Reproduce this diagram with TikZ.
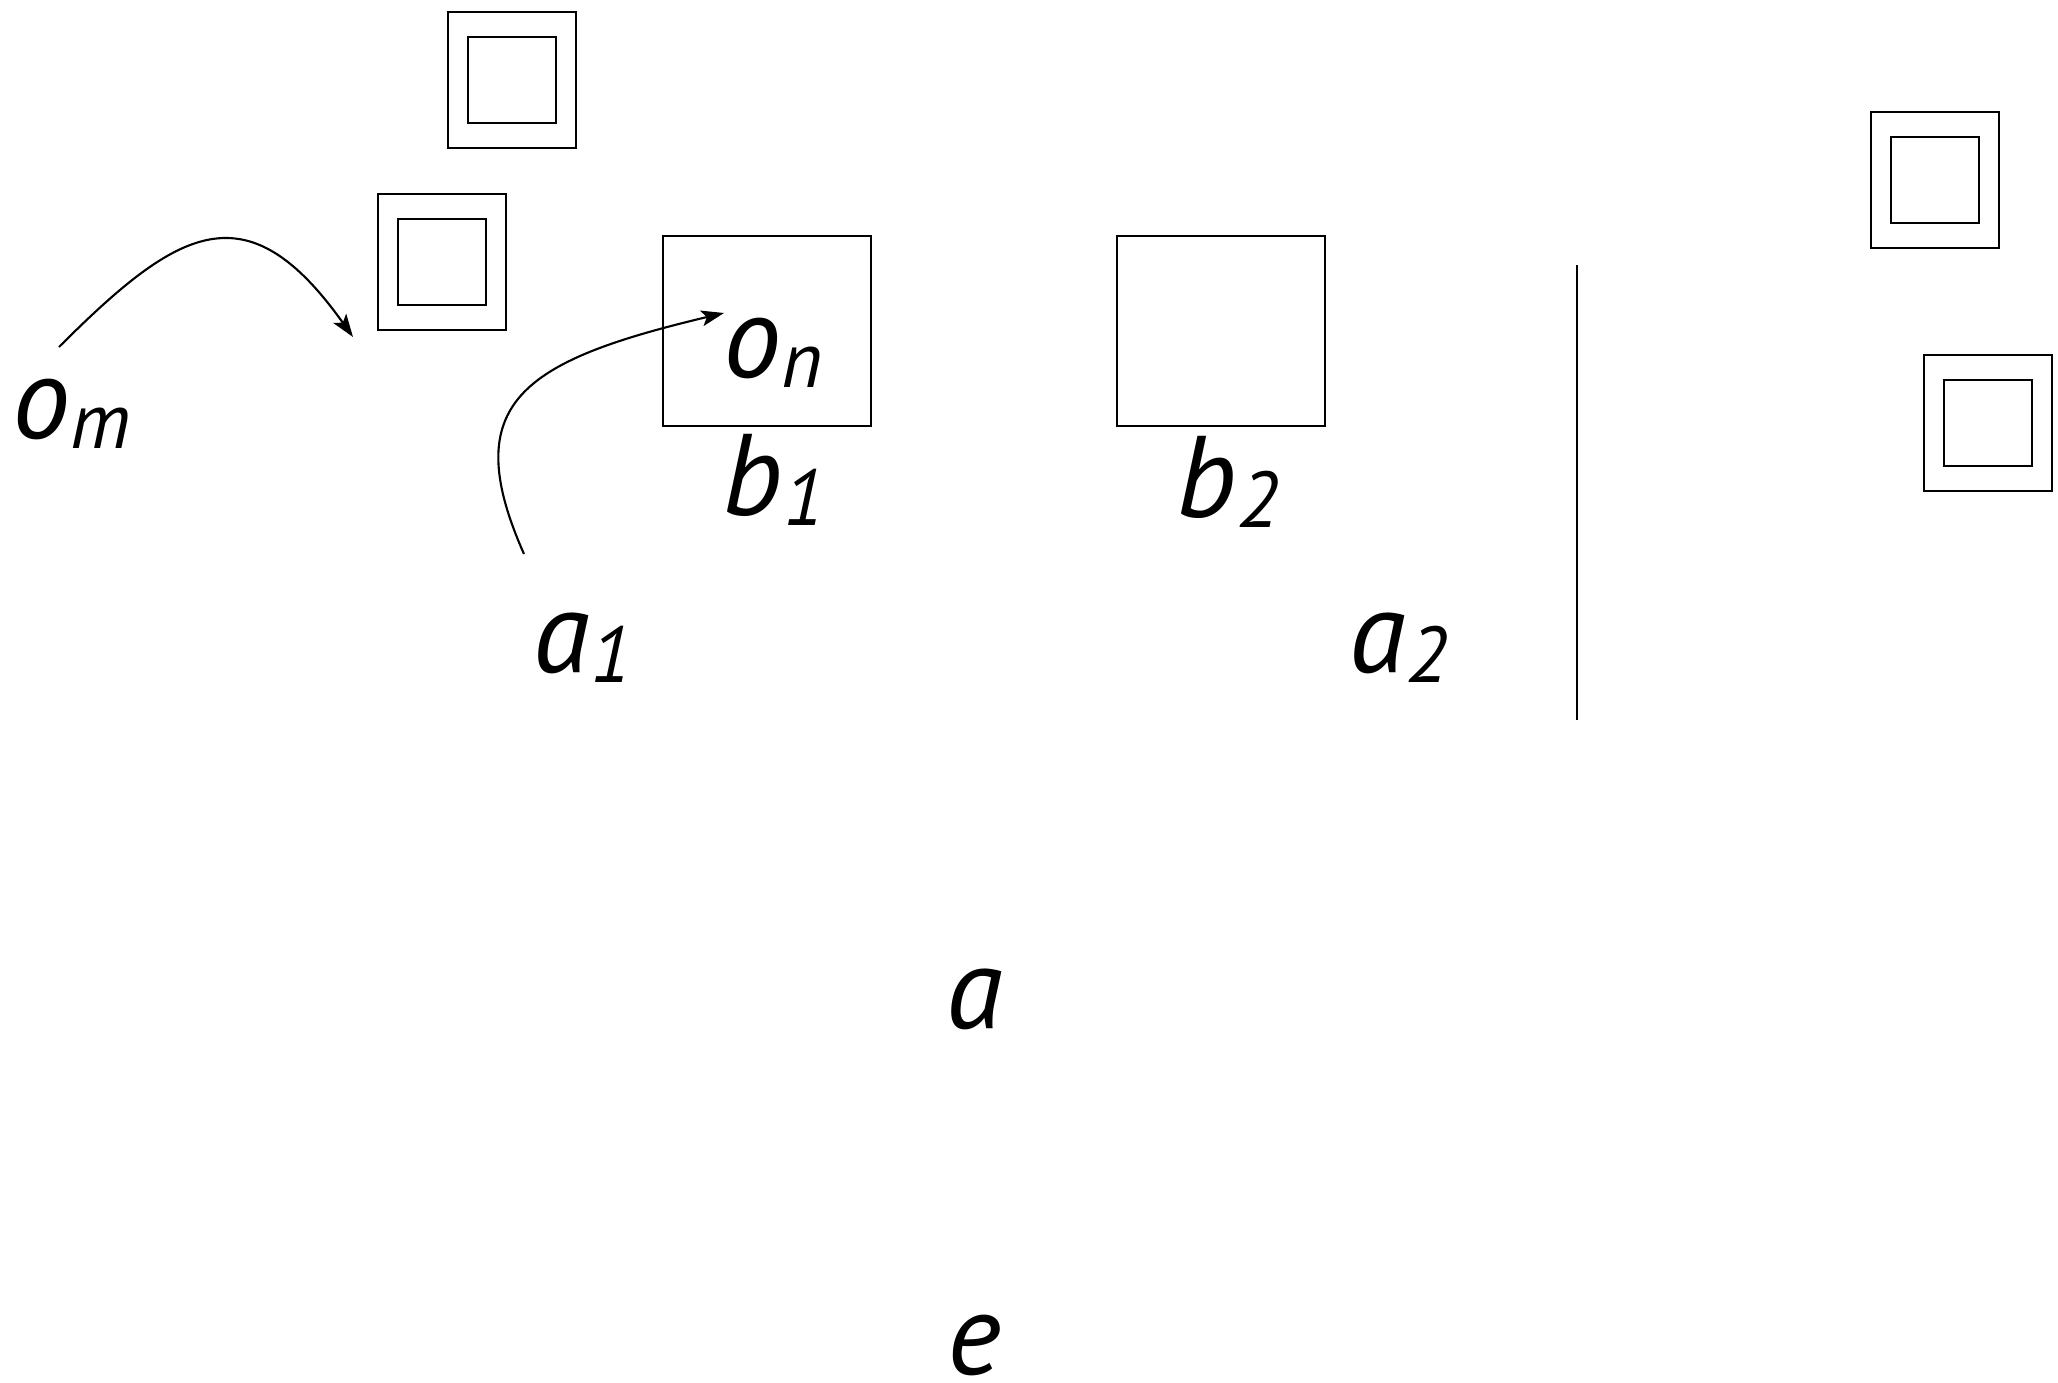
\documentclass[tikz,border=0pt]{standalone}
\usepackage{fontspec}
\setmainfont{PT Sans}
\usepackage{tikz}
\usetikzlibrary{arrows.meta,positioning}

\newcommand{\lowidx}[1]{\raisebox{-0.1cm}{\fontsize{22.5pt}{22.5pt}\selectfont\itshape #1}}

\begin{document}
\begin{tikzpicture}[
		x=0.01cm, y=-0.01cm,
		outerbox/.style={
			rectangle,
			draw=black,
			line width=0.7pt,
			inner sep=0pt,
			minimum width=1.28cm,
			minimum height=1.36cm
		},
		innerbox/.style={
			outerbox,
			minimum width=0.88cm,
			minimum height=0.86cm
		},
		blockbox/.style={
			rectangle,
			draw=black,
			line width=0.7pt,
			inner sep=0pt,
			minimum width=2.08cm,
			minimum height=1.9cm
		},
		lbl/.style={
			inner sep=0pt,
			anchor=base west,
			font=\fontsize{33pt}{33pt}\selectfont\itshape
		},
		arrow/.style={
			-{Stealth[length=6.5pt,width=4.5pt,inset=1.5pt]},
			draw=black,
			line width=0.6pt
		},
		divider/.style={
			draw=black,
			line width=0.7pt
		}
		]
		\useasboundingbox (0,0) rectangle (2058,1382);
		
		% double boxes
		\node[outerbox] (boxA) at (512,80) {};
		\node[innerbox] (boxAin) at (boxA.center) {};
		\node[outerbox] (boxB) at (442,262) {};
		\node[innerbox] (boxBin) at (boxB.center) {};
		\node[outerbox] (boxC) at (1935,180) {};
		\node[innerbox] (boxCin) at (boxC.center) {};
		\node[outerbox] (boxD) at (1988,423) {};
		\node[innerbox] (boxDin) at (boxD.center) {};
		
		% blocks
		\node[blockbox] (block1) at (767,331) {};
		\node[blockbox] (block2) at (1221,331) {};
		
		% labels
		\node[lbl] (om) at (12,438) {o\lowidx{m}};
		\node[lbl] (on) at (723,377) {o\lowidx{n}};
		\node[lbl] (b1) at (722,515) {b\lowidx{1}};
		\node[lbl] (b2) at (1176,517) {b\lowidx{2}};
		\node[lbl] (a1) at (533,672) {a\lowidx{1}};
		\node[lbl] (a2) at (1349,672) {a\lowidx{2}};
		\node[lbl, anchor=base] (a) at (975,1028) {a};
		\node[lbl, anchor=base] (e) at (974,1374) {e};
		
		% divider
		\coordinate (divtop) at (1577,265);
		\coordinate (divbot) at (1577,720);
		\draw[divider] (divtop) -- (divbot);
		
		% moves
		\coordinate (omstart) at (59,347);
		\coordinate (omend) at (353,337);
		\coordinate (a1start) at (524,554);
		\coordinate (a1end) at (724,313);
		\draw[arrow] (omstart) .. controls +(120,-120) and +(-106,-149) .. (omend);
		\draw[arrow] (a1start) .. controls +(-67,-151) and +(-202,48) .. (a1end);
		
	\end{tikzpicture}
\end{document}
